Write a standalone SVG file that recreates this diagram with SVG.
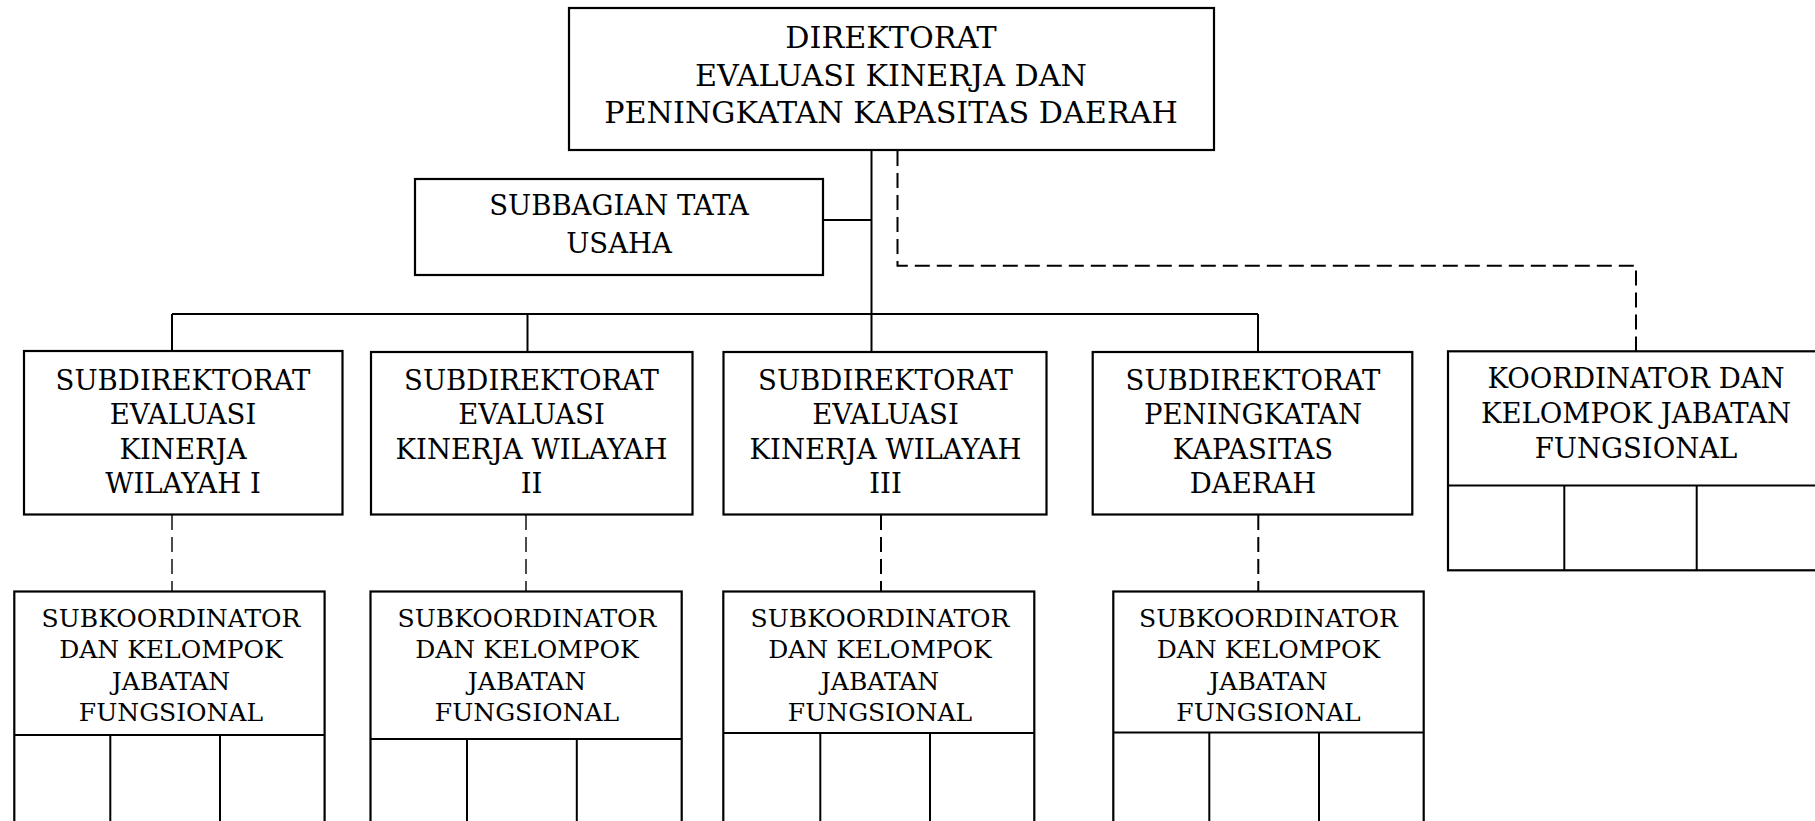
<svg xmlns="http://www.w3.org/2000/svg" width="1815" height="821" viewBox="0 0 1815 821">
<style>
.box{fill:#fff;stroke:#000;stroke-width:2.2}
.ln{fill:none;stroke:#000;stroke-width:2}
.dash{fill:none;stroke:#000;stroke-width:2;stroke-dasharray:15 7}
.thin{stroke-width:1.4}
text{font-family:"DejaVu Serif","Liberation Serif",serif;fill:#000;text-anchor:middle}
.t30{font-size:30.2px}
.t27{font-size:27.5px}
.t25{font-size:25px}
</style>
<rect width="1815" height="821" fill="#fff"/>
<g id="connectors">
<line class="ln" x1="871.5" y1="150" x2="871.5" y2="351"/>
<line class="ln" x1="823" y1="220" x2="871.5" y2="220"/>
<line class="ln" x1="172" y1="314" x2="1258" y2="314"/>
<line class="ln" x1="172" y1="314" x2="172" y2="351"/>
<line class="ln" x1="527.5" y1="314" x2="527.5" y2="352"/>
<line class="ln" x1="1258" y1="314" x2="1258" y2="352"/>
<path class="dash" d="M897.5 151 V265.7 H1636 V351"/>
<line class="dash thin" x1="172" y1="515" x2="172" y2="591"/>
<line class="dash thin" x1="526" y1="515" x2="526" y2="591"/>
<line class="dash" x1="881" y1="515" x2="881" y2="591"/>
<line class="dash" x1="1258.3" y1="515" x2="1258.3" y2="591"/>
</g>
<g id="direktorat">
<rect class="box" x="569" y="8" width="645" height="142"/>
<text class="t30" x="891" y="48.3">DIREKTORAT</text>
<text class="t30" x="891" y="86">EVALUASI KINERJA DAN</text>
<text class="t30" x="891" y="123.3">PENINGKATAN KAPASITAS DAERAH</text>
</g>
<g id="subbagian">
<rect class="box" x="415" y="179" width="408" height="96"/>
<text class="t27" x="619" y="215">SUBBAGIAN TATA</text>
<text class="t27" x="619" y="253.3">USAHA</text>
</g>
<g id="subdit1">
<rect class="box" x="24" y="351" width="318.5" height="163.5"/>
<text class="t27" x="183" y="389.5">SUBDIREKTORAT</text>
<text class="t27" x="183" y="424">EVALUASI</text>
<text class="t27" x="183" y="458.6">KINERJA</text>
<text class="t27" x="183" y="493.2">WILAYAH I</text>
</g>
<g id="subdit2">
<rect class="box" x="371" y="352" width="321.5" height="162.5"/>
<text class="t27" x="531.5" y="389.5">SUBDIREKTORAT</text>
<text class="t27" x="531.5" y="424">EVALUASI</text>
<text class="t27" x="531.5" y="458.6">KINERJA WILAYAH</text>
<text class="t27" x="531.5" y="493.2">II</text>
</g>
<g id="subdit3">
<rect class="box" x="723.5" y="352" width="323" height="162.5"/>
<text class="t27" x="885.5" y="389.5">SUBDIREKTORAT</text>
<text class="t27" x="885.5" y="424">EVALUASI</text>
<text class="t27" x="885.5" y="458.6">KINERJA WILAYAH</text>
<text class="t27" x="885.5" y="493.2">III</text>
</g>
<g id="subdit4">
<rect class="box" x="1092.7" y="352" width="319.6" height="162.5"/>
<text class="t27" x="1253" y="389.5">SUBDIREKTORAT</text>
<text class="t27" x="1253" y="424">PENINGKATAN</text>
<text class="t27" x="1253" y="458.6">KAPASITAS</text>
<text class="t27" x="1253" y="493.2">DAERAH</text>
</g>
<g id="subkoord1">
<rect class="box" x="14.3" y="591.5" width="310.3" height="250"/>
<line class="ln" x1="14.3" y1="735" x2="324.6" y2="735"/>
<line class="ln" x1="110.3" y1="735" x2="110.3" y2="830"/>
<line class="ln" x1="220" y1="735" x2="220" y2="830"/>
<text class="t25" x="171" y="627">SUBKOORDINATOR</text>
<text class="t25" x="171" y="658.4">DAN KELOMPOK</text>
<text class="t25" x="171" y="689.6">JABATAN</text>
<text class="t25" x="171" y="720.7">FUNGSIONAL</text>
</g>
<g id="subkoord2">
<rect class="box" x="370.5" y="591.5" width="311.2" height="250"/>
<line class="ln" x1="370.5" y1="739" x2="681.7" y2="739"/>
<line class="ln" x1="467" y1="739" x2="467" y2="830"/>
<line class="ln" x1="576.8" y1="739" x2="576.8" y2="830"/>
<text class="t25" x="527" y="627">SUBKOORDINATOR</text>
<text class="t25" x="527" y="658.4">DAN KELOMPOK</text>
<text class="t25" x="527" y="689.6">JABATAN</text>
<text class="t25" x="527" y="720.7">FUNGSIONAL</text>
</g>
<g id="subkoord3">
<rect class="box" x="723.3" y="591.5" width="311" height="250"/>
<line class="ln" x1="723.3" y1="733" x2="1034.3" y2="733"/>
<line class="ln" x1="820.3" y1="733" x2="820.3" y2="830"/>
<line class="ln" x1="930" y1="733" x2="930" y2="830"/>
<text class="t25" x="880" y="627">SUBKOORDINATOR</text>
<text class="t25" x="880" y="658.4">DAN KELOMPOK</text>
<text class="t25" x="880" y="689.6">JABATAN</text>
<text class="t25" x="880" y="720.7">FUNGSIONAL</text>
</g>
<g id="subkoord4">
<rect class="box" x="1113.3" y="591.5" width="310.4" height="250"/>
<line class="ln" x1="1113.3" y1="732.6" x2="1423.7" y2="732.6"/>
<line class="ln" x1="1209.3" y1="732.6" x2="1209.3" y2="830"/>
<line class="ln" x1="1319" y1="732.6" x2="1319" y2="830"/>
<text class="t25" x="1268.5" y="627">SUBKOORDINATOR</text>
<text class="t25" x="1268.5" y="658.4">DAN KELOMPOK</text>
<text class="t25" x="1268.5" y="689.6">JABATAN</text>
<text class="t25" x="1268.5" y="720.7">FUNGSIONAL</text>
</g>
<g id="koordinator">
<rect class="box" x="1448" y="351.3" width="380" height="219"/>
<line class="ln" x1="1448" y1="485.5" x2="1830" y2="485.5"/>
<line class="ln" x1="1564.3" y1="485.5" x2="1564.3" y2="570.4"/>
<line class="ln" x1="1696.7" y1="485.5" x2="1696.7" y2="570"/>
<text class="t27" x="1636" y="388.3">KOORDINATOR DAN</text>
<text class="t27" x="1636" y="423.3">KELOMPOK JABATAN</text>
<text class="t27" x="1636" y="458.3">FUNGSIONAL</text>
</g>
</svg>
